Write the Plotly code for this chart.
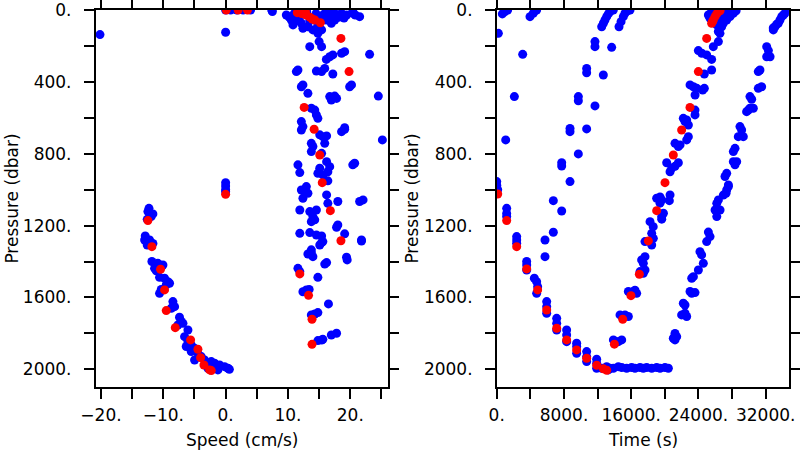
import plotly.graph_objects as go

# ---------------- Left panel: speed vs pressure ----------------
speed_all = [
    0.0, 0.8, 1.8, 2.8, 4.0, 7.4, 7.5, -20.16, 0.0,
    9.74, 10.54, 11.35, 12.15, 10.81, 12.4, 13.2, 14.0, 14.8, 15.4, 16.16, 16.7, 17.5, 18.0, 18.6, 19.4, 20.4, 21.5, 16.96,
    11.0, 12.0, 13.0, 14.5, 15.5, 16.0, 17.0, 17.5, 13.5, 14.5, 15.0, 10.2, 11.8, 19.0, 20.8, 20.4, 14.8, 18.2,
    15.0, 13.5, 15.4, 16.16, 16.7, 17.2, 18.6, 19.1, 23.1, 11.35, 11.6, 14.56, 15.4, 15.9, 17.2, 12.15, 12.4, 13.2,
    19.9, 20.2, 16.7, 17.5, 16.96, 17.8, 24.5, 13.75, 14.3, 14.56, 14.8, 12.15, 12.4, 19.1, 25.15,
    12.15, 15.1, 15.6, 16.2, 15.9, 13.75, 14.0, 13.75, 18.6, 19.1, 15.4, 16.2, 16.7, 16.4, 15.1, 14.8, 15.6,
    11.6, 11.9, 20.4, 20.7, 16.4, 12.95, 12.15, 12.4, 13.2, 16.2, 16.4, 18.0, 21.5, 22.05, 11.9, 13.5, 14.56,
    14.0, 14.3, 13.75, 18.0, 17.8, 11.9, 13.5, 14.56, 15.4, 15.6, 15.1, 19.1, 21.8, 13.75,
    15.4, 21.8, 13.2, 13.75, 14.0, 16.2, 15.9, 19.4, 19.5, 11.6, 11.9, 14.8, 12.4, 12.95, 13.4, 16.5,
    13.75, 14.3, 14.8, 14.8, 15.4, 15.6, 16.96, 17.8,
    0.0, 0.0, 0.0, 0.0,
    -12.3, -12.47, -11.67, -11.94, -12.58,
    -12.9, -13.0, -12.2, -11.67, -12.58,
    -11.83, -10.87, -10.06, -11.4, -11.13,
    -10.6, -9.8, -9.26, -9.0, -9.53, -10.33, -10.6,
    -8.46, -8.19, -8.72,
    -7.4, -7.12, -6.85, -7.66,
    -6.05, -6.59, -6.05, -5.52, -6.32, -5.52,
    -4.98, -4.45, -4.98, -3.91, -3.38,
    -2.84, -2.3, -1.77, -0.97, -0.17, 0.37, -1.24, -2.04, -2.84, 0.6,
]
pres_all_left = [
    0, 0, 0, 0, 0, 0, 9, 137, 124,
    28, 56, 46, 74, 83, 102, 93, 111, 130, 111, 56, 37, 56, 28, 19, 28, 19, 37, 74,
    20, 15, 10, 20, 30, 15, 10, 20, 60, 55, 45, 40, 60, 45, 28, 9, 85, 40,
    176, 204, 204, 275, 260, 250, 241, 232, 247, 343, 334, 340, 343, 325, 356, 427, 417, 464,
    427, 417, 482, 479, 501, 492, 479, 547, 557, 584, 603, 621, 649, 655, 723,
    668, 695, 705, 701, 742, 742, 760, 788, 677, 664, 798, 844, 872, 900, 881, 909, 918,
    862, 905, 862, 853, 951, 983, 1002, 1048, 1020, 1029, 1076, 1066, 1066, 1057, 1113, 1122, 1113,
    1150, 1168, 1178, 1196, 1209, 1243, 1239, 1252, 1258, 1289, 1308, 1246, 1280, 1335,
    1295, 1286, 1358, 1350, 1373, 1406, 1414, 1376, 1391, 1438, 1456, 1488, 1568, 1558, 1555, 1636,
    1697, 1692, 1684, 1840, 1837, 1833, 1809, 1799,
    961, 980, 1000, 1011,
    1104, 1122, 1135, 1150, 1165,
    1258, 1280, 1280, 1299, 1308,
    1400, 1410, 1419, 1438, 1451,
    1488, 1493, 1512, 1521, 1530, 1555, 1577,
    1623, 1651, 1660,
    1710, 1734, 1744, 1753,
    1781, 1818, 1846, 1864, 1873, 1901,
    1883, 1911, 1948, 1929, 1948,
    1966, 1957, 1966, 1976, 1985, 1994, 2003, 1994, 1994, 2000,
]
speed_sel = [
    0.1, 2.0, 3.5, 11.5, 12.2, 12.9, 13.5, 13.9, 14.3, 12.8, 15.2, 18.5, 19.8, 12.6, 14.2, 15.1, 15.5, 16.8,
    18.5, 11.9, 13.3, 13.86, 13.86, 0.0, -12.47, -11.83, -10.44, -9.8, -9.53, -8.08, -5.62, -4.45, -4.02,
    -3.48, -2.57, -2.3,
]
pres_sel_left = [
    0, 0, 0, 15, 20, 28, 40, 50, 56, 9, 71, 158, 343, 542, 664, 807, 961, 1117,
    1284, 1469, 1588, 1721, 1861, 1026, 1172, 1317, 1443, 1558, 1673, 1768, 1836, 1888, 1935,
    1976, 2003, 2007,
]

# ---------------- Right panel: time vs pressure ----------------
time_all = [
    670, 990, 1300, 3960, 4350, 4550, 4750,
    195, 3090, 2100, 1070,
    0, 0, 115,
    1185, 1185, 1185,
    11690, 11690, 13675, 10700, 10700, 12685, 9710, 9710, 11690, 8720, 8720, 10700, 9710, 7730, 7730, 8720,
    6735, 7730, 5745, 6735, 5745,
    12490, 12690, 12880, 13080, 13280, 13480, 13680, 13870,
    14550, 14790, 15060, 15260, 15580, 15860,
    2375, 2375, 2375, 3565, 3565, 3565, 4475, 4750, 4870, 4750, 5945, 5945, 5945, 7135, 7135, 7135,
    8320, 8320, 8320, 9510, 9510, 9510, 10700, 10700, 10700, 11890, 11890, 11890, 12490, 13080, 13280,
    13480, 13880, 14470, 14870, 15460, 16050, 16450, 17050, 17440, 17840, 18440, 19030, 19430, 20020, 20420,
    13880, 14470, 14870, 14270,
    14670, 15260, 15660, 15070,
    15660, 16250, 16650, 16450,
    17050, 17640, 17440, 17240, 17640, 17440,
    17640, 18440, 18440, 18630,
    18620, 19630, 18240, 19830, 19630,
    19030, 19430, 19630, 19430, 20620, 20540,
    20220, 20620, 20820, 21210, 21610,
    21210, 21610, 21810,
    22200, 22400, 22600, 22800, 22800, 22600,
    23590, 23590,
    23000, 23400, 23800, 24700, 24500, 23600,
    24700, 25570, 25570,
    23990, 24390, 24980,
    25770, 26370, 26560,
    25180, 25380, 25570, 26170, 26760, 26960, 27360, 27750, 28150, 28480, 27160, 27560, 26560, 26370,
    25900, 26300, 26800,
    21210, 21210, 21410, 21010,
    22000, 22400, 22600,
    22200, 22400,
    23000, 23590, 23200,
    23400, 23200,
    23990, 24580, 24180, 24380,
    24980, 25380, 25180,
    26180, 25980, 26570, 26180, 26370,
    26960, 27360, 27560, 27280,
    27560, 27160, 27360,
    28150, 28350, 28550,
    28150, 28350,
    28940, 29140, 28740, 29340,
    29930, 30130, 30530, 29730,
    30130, 30330,
    31120, 31520,
    31120, 31320,
    32120, 32320, 32520, 32120,
    32910, 33110, 33500, 33700, 33900, 34100, 34300, 34500, 34500, 33300, 32900,
]
pres_all_right = [
    22, 9, 0, 37, 18, 5, 0,
    130, 247, 482, 723,
    955, 975, 1000,
    1104, 1132, 1150,
    176, 204, 208, 325, 349, 362, 482, 505, 534, 659, 677, 662, 801, 850, 868, 955,
    1061, 1119, 1280, 1237, 1373,
    93, 74, 56, 37, 22, 9, 0, 0,
    93, 65, 37, 18, 5, 0,
    1261, 1280, 1298, 1400, 1419, 1447, 1493, 1512, 1540, 1577, 1623, 1651, 1688, 1716, 1744, 1781,
    1781, 1809, 1846, 1855, 1873, 1911, 1901, 1929, 1957, 1944, 1966, 1994, 1994, 1985, 2003,
    1994, 1994, 1985, 1990, 1994, 1990, 1994, 1990, 1994, 1990, 1994, 1990, 1994, 1990, 1994,
    1836, 1846, 1836, 1846,
    1697, 1697, 1706, 1706,
    1567, 1567, 1577, 1560,
    1456, 1447, 1410, 1391, 1373, 1465,
    1289, 1308, 1243, 1271,
    1206, 1164, 1178, 1131, 1150,
    1048, 1041, 1057, 1075, 1029, 1061,
    850, 900, 880, 870, 850,
    742, 760, 751,
    603, 621, 612, 640, 705, 723,
    557, 584,
    417, 427, 436, 436, 445, 473,
    356, 334, 275,
    226, 241, 250,
    204, 176, 130,
    28, 46, 9, 83, 93, 74, 56, 37, 19, 4, 28, 9, 65, 120,
    50, 30, 20,
    1800, 1836, 1818, 1827,
    1697, 1688, 1706,
    1632, 1642,
    1567, 1573, 1577,
    1484, 1493,
    1447, 1410, 1345, 1363,
    1289, 1261, 1236,
    1150, 1113, 1113, 1076, 1057,
    1030, 1002, 983, 1020,
    974, 927, 909,
    844, 862, 844,
    788, 770,
    649, 668, 705, 705,
    557, 547, 547, 566,
    482, 497,
    436, 427,
    343, 334,
    204, 226, 260, 260,
    111, 93, 74, 56, 37, 28, 18, 9, 0, 80, 100,
]
time_sel = [
    120, 1185, 2375, 3565, 4870, 5945, 7135, 8320, 9510, 10700, 11900, 12690, 13090,
    14000, 14990, 15970, 16970, 18040, 19030, 20020, 21010, 22000, 22990, 23990, 24980,
    25570, 25770, 25970, 26170, 26370, 26570, 25670,
]
pres_sel_right = [
    1024, 1172, 1317, 1441, 1558, 1670, 1771, 1836, 1892, 1938, 1977, 1997, 2005,
    1860, 1721, 1590, 1471, 1285, 1117, 961, 807, 668, 542, 343, 158,
    74, 56, 37, 22, 9, 4, 65,
]

# ---------------- Axis ticks ----------------
speed_ticks = [-20, -15, -10, -5, 0, 5, 10, 15, 20, 25]
speed_labels = ["\u221220.", "", "\u221210.", "", "0.", "", "10.", "", "20.", ""]
time_ticks = [0, 4000, 8000, 12000, 16000, 20000, 24000, 28000, 32000]
time_labels = ["0.", "", "8000.", "", "16000.", "", "24000.", "", "32000."]
pres_ticks = [0, 200, 400, 600, 800, 1000, 1200, 1400, 1600, 1800, 2000]
pres_labels = ["0.", "", "400.", "", "800.", "", "1200.", "", "1600.", "", "2000."]

FONT = "DejaVu Sans"
MS = 9

fig = go.Figure()
fig.add_trace(go.Scatter(x=speed_all, y=pres_all_left, mode="markers",
                         marker=dict(color="#0000ff", size=MS), xaxis="x", yaxis="y", showlegend=False))
fig.add_trace(go.Scatter(x=speed_sel, y=pres_sel_left, mode="markers",
                         marker=dict(color="#ff0000", size=MS), xaxis="x", yaxis="y", showlegend=False))
fig.add_trace(go.Scatter(x=time_all, y=pres_all_right, mode="markers",
                         marker=dict(color="#0000ff", size=MS), xaxis="x2", yaxis="y2", showlegend=False))
fig.add_trace(go.Scatter(x=time_sel, y=pres_sel_right, mode="markers",
                         marker=dict(color="#ff0000", size=MS), xaxis="x2", yaxis="y2", showlegend=False))

ax_common = dict(showline=True, linecolor="black", linewidth=1.5, mirror="ticks",
                 ticks="outside", ticklen=10, tickwidth=1.5, tickcolor="black",
                 showgrid=False, zeroline=False, tickmode="array", automargin=False,
                 ticklabeloverflow="allow",
                 tickfont=dict(family=FONT, size=17, color="black"))

ydom = [0.1393, 0.9778]
fig.update_layout(
    width=800, height=450, autosize=False,
    margin=dict(l=0, r=0, t=0, b=0),
    paper_bgcolor="white", plot_bgcolor="white",
    xaxis=dict(domain=[0.1196, 0.4846], anchor="y", range=[-20.85, 26],
               tickvals=speed_ticks, ticktext=speed_labels, ticklabelstandoff=2, **ax_common),
    yaxis=dict(domain=ydom, anchor="x", range=[2100, 0],
               tickvals=pres_ticks, ticktext=pres_labels, ticklabelstandoff=9, **ax_common),
    xaxis2=dict(domain=[0.6209, 0.9859], anchor="y2", range=[0, 34740],
                tickvals=time_ticks, ticktext=time_labels, ticklabelstandoff=2, **ax_common),
    yaxis2=dict(domain=ydom, anchor="x2", range=[2100, 0],
                tickvals=pres_ticks, ticktext=pres_labels, ticklabelstandoff=9, **ax_common),
    annotations=[
        dict(text="Speed (cm/s)", x=241.7 / 800, y=1 - 440 / 450, xref="paper", yref="paper",
             showarrow=False, xanchor="center", yanchor="middle", font=dict(family=FONT, size=17, color="black")),
        dict(text="Time (s)", x=642.7 / 800, y=1 - 440 / 450, xref="paper", yref="paper",
             showarrow=False, xanchor="center", yanchor="middle", font=dict(family=FONT, size=17, color="black")),
        dict(text="Pressure (dbar)", x=12 / 800, y=1 - 198.6 / 450, xref="paper", yref="paper",
             showarrow=False, textangle=-90, xanchor="center", yanchor="middle",
             font=dict(family=FONT, size=17, color="black")),
        dict(text="Pressure (dbar)", x=412 / 800, y=1 - 198.6 / 450, xref="paper", yref="paper",
             showarrow=False, textangle=-90, xanchor="center", yanchor="middle",
             font=dict(family=FONT, size=17, color="black")),
    ],
)

fig.write_html("out.html", config={"displayModeBar": False},
               post_script="document.body.style.margin='0px';document.body.style.overflow='hidden';")
